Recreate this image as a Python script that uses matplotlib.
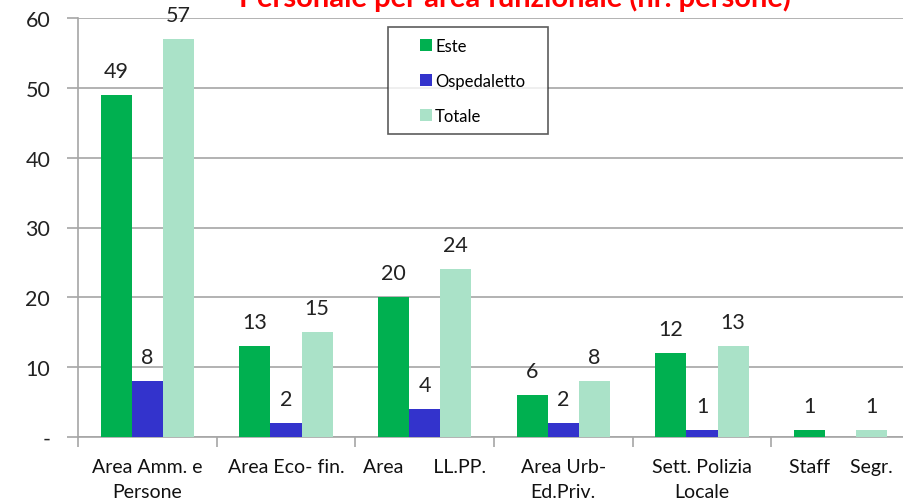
import matplotlib
matplotlib.use("Agg")
import matplotlib.pyplot as plt
from matplotlib.patches import Rectangle
from matplotlib.legend_handler import HandlerPatch
import numpy as np

categories = ["Area Amm. e\nPersone", "Area Eco- fin.", "Area      LL.PP.",
              "Area Urb-\nEd.Priv.", "Sett. Polizia\nLocale", "Staff    Segr."]
series_names = ["Este", "Ospedaletto", "Totale"]
este = [49, 13, 20, 6, 12, 1]
ospedaletto = [8, 2, 4, 2, 1, 0]
totale = [57, 15, 24, 8, 13, 1]
yticks = [0, 10, 20, 30, 40, 50, 60]
ytick_labels = ["-", "10", "20", "30", "40", "50", "60"]
title = "Personale per area funzionale (nr. persone)"

colors = ["#00B050", "#3333CC", "#AAE2C8"]
plt.rcParams['font.family'] = ['Lato', 'DejaVu Sans']

fig = plt.figure(figsize=(9.04, 5.02), dpi=100)
ax = fig.add_axes([78/904, 1-438/502, 832/904, (438-19)/502])

x = np.arange(len(categories))
w = 0.224
grid_c = "#A6A6A6"
handles = []
for i, (vals, c, name) in enumerate(zip([este, ospedaletto, totale], colors, series_names)):
    pos = x + (i - 1) * w
    bars = ax.bar(pos, vals, width=w, color=c, label=name, zorder=3)
    handles.append(bars.patches[0])
    for p, v in zip(pos, vals):
        if v > 0:
            ax.text(p, v + 2.0, str(v), ha='center', va='bottom', fontsize=15.5, color='#222222', zorder=4)

ax.set_xlim(-0.5, len(categories) - 0.5)
ax.set_ylim(0, 60)
ax.set_yticks(yticks)
ax.set_yticklabels(ytick_labels, fontsize=15.5, color='#222222')
ax.yaxis.grid(True, color=grid_c, linewidth=1.2, zorder=0)
ax.set_axisbelow(True)

ax.set_xticks(x)
ax.set_xticklabels(categories, fontsize=14, color='#111111', linespacing=1.55)
ax.set_xticks(np.arange(-0.5, len(categories), 1), minor=True)
ax.tick_params(axis='x', which='major', length=0, pad=15)
ax.tick_params(axis='x', which='minor', length=7, color=grid_c, width=1.2)
ax.tick_params(axis='y', length=8, color=grid_c, width=1.2, pad=12)

for s in ['top', 'right']:
    ax.spines[s].set_visible(False)
for s in ['left', 'bottom']:
    ax.spines[s].set_color(grid_c)
    ax.spines[s].set_linewidth(1.2)


def square_patch(legend, orig_handle, xdescent, ydescent, width, height, fontsize):
    s = 8.6
    return Rectangle((-xdescent + width - s, -ydescent + (height - s) / 2), s, s)


leg = ax.legend(handles=handles, labels=series_names, loc='upper left',
                bbox_to_anchor=((388-78)/832, (438-134)/419, 160/832, 106/419),
                mode='expand',
                frameon=True, fancybox=False, edgecolor='#333333', fontsize=12,
                handlelength=1.98, handleheight=0.7, handletextpad=0.2,
                labelspacing=1.13, borderpad=0.65, borderaxespad=0,
                handler_map={Rectangle: HandlerPatch(patch_func=square_patch)})
leg.get_frame().set_linewidth(1.2)
leg.set_zorder(5)

fig.text(515/904, 1 - 7/502, title, ha='center', va='baseline', color='#FF0000',
         fontsize=21, fontweight='bold')

fig.savefig("out.png", dpi=100)
